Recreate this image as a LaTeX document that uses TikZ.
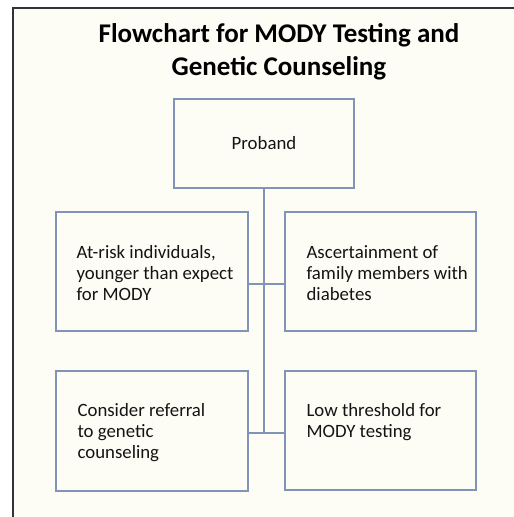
\documentclass[tikz,border=0pt]{standalone}
\usepackage{fontspec}
\setmainfont{Carlito}
\usetikzlibrary{calc}
\definecolor{boxline}{RGB}{128,148,186}
\definecolor{paper}{RGB}{253,253,246}
\definecolor{frameline}{RGB}{50,50,55}
\definecolor{ink}{RGB}{20,20,20}
\begin{document}
\begin{tikzpicture}[x=1pt,y=-1pt,
  box/.style={draw=boxline, line width=1.2pt, fill=paper, inner sep=0pt},
  txt/.style={font=\fontsize{18.8}{21}\selectfont, align=left, inner sep=0pt, anchor=north west, text=ink},
  link/.style={draw=boxline, line width=1.2pt},
  titletxt/.style={font=\fontsize{27}{33}\selectfont\bfseries, align=center, inner sep=0pt, anchor=north, text=black}]
\useasboundingbox (0,0) rectangle (514,517);
\fill[white] (0,0) rectangle (514,517);
\fill[paper] (13,8) rectangle (514,517);
\draw[frameline, line width=1.3pt] (13,517) -- (13,8) -- (514,8);

\node[titletxt] (title) at (279,18.9) {\strut Flowchart for MODY Testing and\\Genetic Counseling};

\node[box, minimum width=180pt, minimum height=89pt, font=\fontsize{18.8}{21}\selectfont, text=ink] (proband) at (264,143.5) {Proband};
\node[box, minimum width=192pt, minimum height=119pt] (lm) at (152,271.5) {};
\node[box, minimum width=191pt, minimum height=119pt] (rm) at (380.5,271.5) {};
\node[box, minimum width=192pt, minimum height=120pt] (lb) at (152,431) {};
\node[box, minimum width=191pt, minimum height=119pt] (rb) at (380.5,430.5) {};

\coordinate (j1) at (264,284);
\coordinate (j2) at (264,433);
\draw[link] (proband.south) -- (j2);
\draw[link] (lm.east |- j1) -- (rm.west |- j1);
\draw[link] (lb.east |- j2) -- (rb.west |- j2);

\node[txt] (lmt) at ($(lm.north west)+(21,32.3)$) {\strut At-risk individuals,\\younger than expect\\for MODY};
\node[txt] (rmt) at ($(rm.north west)+(22,32.3)$) {\strut Ascertainment of\\family members with\\diabetes};
\node[txt] (lbt) at ($(lb.north west)+(22,31.3)$) {\strut Consider referral\\to genetic\\counseling};
\node[txt] (rbt) at ($(rb.north west)+(22,31.3)$) {\strut Low threshold for\\MODY testing};
\end{tikzpicture}
\end{document}
